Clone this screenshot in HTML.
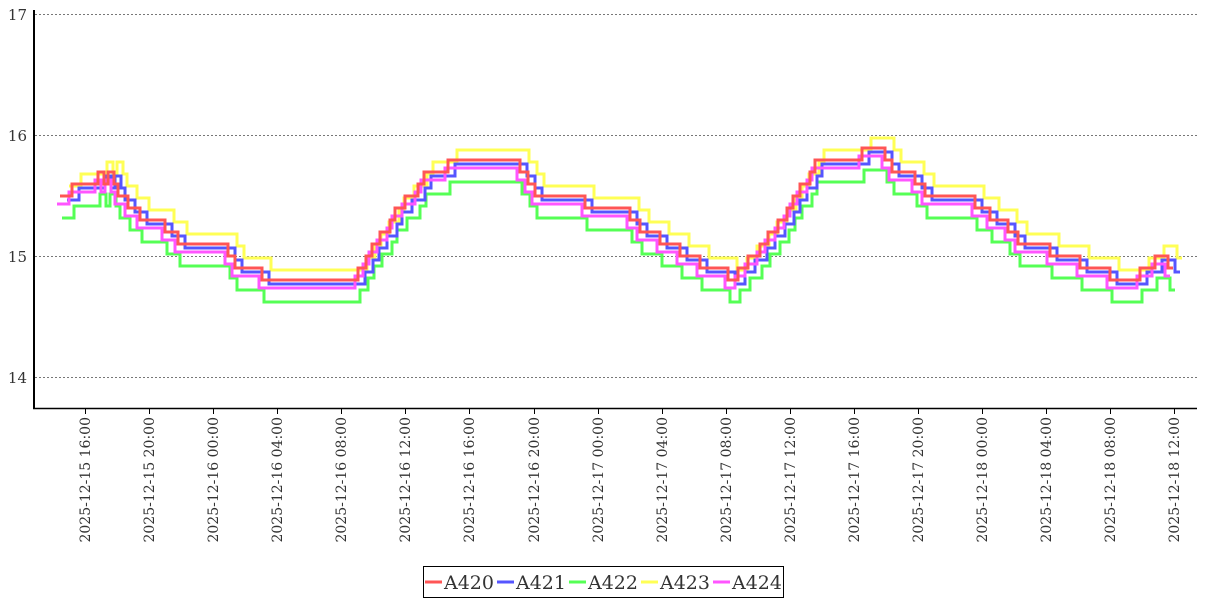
<!DOCTYPE html>
<html><head><meta charset="utf-8"><style>
body{margin:0;background:#fff}
svg{display:block}
text{font-family:"DejaVu Serif","Liberation Serif",serif;fill:#333}
</style></head><body>
<svg width="1207" height="600" viewBox="0 0 1207 600">
<g stroke="#777" stroke-dasharray="2,2" stroke-width="1">
<line x1="35" y1="14.5" x2="1197" y2="14.5"/>
<line x1="35" y1="135.5" x2="1197" y2="135.5"/>
<line x1="35" y1="256.5" x2="1197" y2="256.5"/>
<line x1="35" y1="377.5" x2="1197" y2="377.5"/>
</g>
<g font-size="15" text-anchor="end">
<text x="27" y="20">17</text><text x="27" y="141">16</text><text x="27" y="262">15</text><text x="27" y="383">14</text>
</g>
<defs>
<path id="s" fill="none" d="M60 196 H72 V184 H98 V172 H104 V184 H108 V172 H114 V184 H118 V196 H128 V208 H140 V220 H165 V232 H178 V244 H228 V256 H235 V268 H262 V280 H358 V268 H366 V256 H372 V244 H380 V232 H390 V220 H395 V208 H405 V196 H418 V184 H424 V172 H448 V160 H520 V172 H528 V184 H535 V196 H585 V208 H630 V220 H640 V232 H660 V244 H680 V256 H700 V268 H728 V280 H738 V268 H748 V256 H760 V244 H768 V232 H778 V220 H787 V208 H793 V196 H800 V184 H810 V172 H815 V160 H862 V148 H885 V160 H892 V172 H915 V184 H925 V196 H975 V208 H990 V220 H1008 V232 H1018 V244 H1050 V256 H1080 V268 H1110 V280 H1140 V268 H1155 V256 H1168 V268 H1173"/>
</defs>
<g stroke-width="3">
<use href="#s" stroke="#55ff55" transform="translate(2,22)"/>
<use href="#s" stroke="#ffff55" transform="translate(9,-10)"/>
<use href="#s" stroke="#5555ff" transform="translate(7,4)"/>
<use href="#s" stroke="#ff55ff" transform="translate(-3,8)"/>
<use href="#s" stroke="#ff5555"/>
</g>
<line x1="34" y1="10" x2="34" y2="409" stroke="#000" stroke-width="2"/>
<line x1="33" y1="408.5" x2="1197" y2="408.5" stroke="#000" stroke-width="1.5"/>
<g stroke="#000" stroke-width="1">
<line x1="85.5" y1="409" x2="85.5" y2="414"/><line x1="149.5" y1="409" x2="149.5" y2="414"/><line x1="213.5" y1="409" x2="213.5" y2="414"/><line x1="277.5" y1="409" x2="277.5" y2="414"/><line x1="341.5" y1="409" x2="341.5" y2="414"/><line x1="405.5" y1="409" x2="405.5" y2="414"/><line x1="469.5" y1="409" x2="469.5" y2="414"/><line x1="534.5" y1="409" x2="534.5" y2="414"/><line x1="598.5" y1="409" x2="598.5" y2="414"/><line x1="662.5" y1="409" x2="662.5" y2="414"/><line x1="726.5" y1="409" x2="726.5" y2="414"/><line x1="790.5" y1="409" x2="790.5" y2="414"/><line x1="854.5" y1="409" x2="854.5" y2="414"/><line x1="918.5" y1="409" x2="918.5" y2="414"/><line x1="982.5" y1="409" x2="982.5" y2="414"/><line x1="1046.5" y1="409" x2="1046.5" y2="414"/><line x1="1110.5" y1="409" x2="1110.5" y2="414"/><line x1="1174.5" y1="409" x2="1174.5" y2="414"/>
</g>
<g font-size="14" text-anchor="end">
<text transform="translate(90,417) rotate(-90)">2025-12-15 16:00</text>
<text transform="translate(154,417) rotate(-90)">2025-12-15 20:00</text>
<text transform="translate(218,417) rotate(-90)">2025-12-16 00:00</text>
<text transform="translate(282,417) rotate(-90)">2025-12-16 04:00</text>
<text transform="translate(346,417) rotate(-90)">2025-12-16 08:00</text>
<text transform="translate(410,417) rotate(-90)">2025-12-16 12:00</text>
<text transform="translate(474,417) rotate(-90)">2025-12-16 16:00</text>
<text transform="translate(539,417) rotate(-90)">2025-12-16 20:00</text>
<text transform="translate(603,417) rotate(-90)">2025-12-17 00:00</text>
<text transform="translate(667,417) rotate(-90)">2025-12-17 04:00</text>
<text transform="translate(731,417) rotate(-90)">2025-12-17 08:00</text>
<text transform="translate(795,417) rotate(-90)">2025-12-17 12:00</text>
<text transform="translate(859,417) rotate(-90)">2025-12-17 16:00</text>
<text transform="translate(923,417) rotate(-90)">2025-12-17 20:00</text>
<text transform="translate(987,417) rotate(-90)">2025-12-18 00:00</text>
<text transform="translate(1051,417) rotate(-90)">2025-12-18 04:00</text>
<text transform="translate(1115,417) rotate(-90)">2025-12-18 08:00</text>
<text transform="translate(1179,417) rotate(-90)">2025-12-18 12:00</text>
</g>
<rect x="423.5" y="566.5" width="360" height="31" fill="#fff" stroke="#000"/>
<g stroke-width="3">
<line x1="425" y1="582" x2="442" y2="582" stroke="#ff5555"/>
<line x1="497" y1="582" x2="514" y2="582" stroke="#5555ff"/>
<line x1="569" y1="582" x2="586" y2="582" stroke="#55ff55"/>
<line x1="641" y1="582" x2="658" y2="582" stroke="#ffff55"/>
<line x1="713" y1="582" x2="730" y2="582" stroke="#ff55ff"/>
</g>
<g font-size="19">
<text x="444" y="589">A420</text><text x="516" y="589">A421</text><text x="588" y="589">A422</text><text x="660" y="589">A423</text><text x="732" y="589">A424</text>
</g>
</svg>
</body></html>
